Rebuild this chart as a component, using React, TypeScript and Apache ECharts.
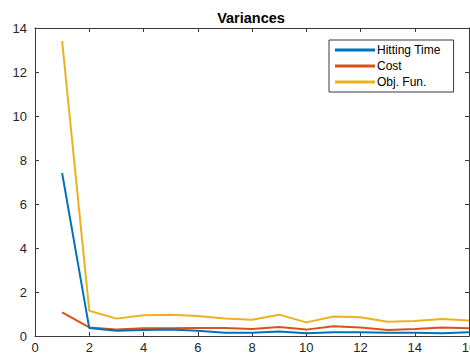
import React, { useEffect, useRef } from "react";
import * as echarts from "echarts";

const iterations = [1, 2, 3, 4, 5, 6, 7, 8, 9, 10, 11, 12, 13, 14, 15, 16];
const hittingTime = [7.4, 0.36, 0.24, 0.27, 0.3, 0.24, 0.15, 0.15, 0.21, 0.12, 0.17, 0.17, 0.15, 0.15, 0.12, 0.17];
const cost = [1.07, 0.39, 0.29, 0.35, 0.35, 0.36, 0.36, 0.32, 0.41, 0.29, 0.44, 0.39, 0.27, 0.32, 0.39, 0.35];
const objFun = [13.4, 1.15, 0.79, 0.94, 0.97, 0.91, 0.8, 0.74, 0.97, 0.62, 0.89, 0.85, 0.65, 0.68, 0.77, 0.71];
const seriesNames = ["Hitting Time", "Cost", "Obj. Fun."];
const colors = ["#0072BD", "#D95319", "#EDB120"];

const FONT = "'Liberation Sans', Arial, Helvetica, sans-serif";
const AXIS = "#3a3a3a";
const TEXT = "#262626";

export default function App() {
  const ref = useRef<HTMLDivElement>(null);

  useEffect(() => {
    if (!ref.current) return;
    const chart = echarts.init(ref.current, null, { renderer: "svg" });
    const pairs = (ys: number[]) => iterations.map((x, i) => [x, ys[i]]);
    const allSeries = [hittingTime, cost, objFun];

    const baseX = {
      type: "value" as const,
      min: 0,
      max: 16,
      interval: 2,
      splitLine: { show: false },
      axisLine: { show: true, onZero: false, lineStyle: { color: AXIS, width: 1 } },
      axisTick: { show: true, inside: true, length: 4, lineStyle: { color: AXIS } },
    };
    const baseY = {
      type: "value" as const,
      min: 0,
      max: 14,
      interval: 2,
      splitLine: { show: false },
      axisLine: { show: true, onZero: false, lineStyle: { color: AXIS, width: 1 } },
      axisTick: { show: true, inside: true, length: 4, lineStyle: { color: AXIS } },
    };

    chart.setOption({
      animation: false,
      backgroundColor: "#ffffff",
      textStyle: { fontFamily: FONT },
      title: {
        text: "Variances",
        left: 246,
        top: 5,
        textAlign: "center",
        textStyle: { fontFamily: FONT, fontSize: 14.5, fontWeight: "bold", color: "#000" },
      },
      grid: {
        left: 35,
        right: 1,
        top: 28,
        bottom: 20,
        containLabel: false,
        outerBoundsMode: "none",
      },
      xAxis: [
        {
          ...baseX,
          position: "bottom",
          axisLabel: { color: TEXT, fontSize: 13, fontFamily: FONT, margin: 5 },
        },
        { ...baseX, position: "top", axisLabel: { show: false } },
      ],
      yAxis: [
        {
          ...baseY,
          position: "left",
          axisLabel: { color: TEXT, fontSize: 13, fontFamily: FONT, margin: 8 },
        },
        { ...baseY, position: "right", axisLabel: { show: false } },
      ],
      legend: {
        data: seriesNames,
        orient: "vertical",
        left: 329,
        top: 40,
        padding: [3, 13, 3, 6],
        itemGap: 2,
        itemWidth: 40,
        itemHeight: 3,
        icon: "rect",
        borderColor: AXIS,
        borderWidth: 1,
        backgroundColor: "#ffffff",
        textStyle: {
          fontFamily: FONT,
          fontSize: 12,
          lineHeight: 14,
          color: "#000",
          padding: [0, 0, 0, -3],
        },
      },
      series: allSeries.map((ys, i) => ({
        name: seriesNames[i],
        type: "line",
        data: pairs(ys),
        showSymbol: false,
        symbol: "none",
        color: colors[i],
        lineStyle: { width: 2, color: colors[i] },
        z: 2 + (2 - i),
      })),
    });

    return () => chart.dispose();
  }, []);

  return (
    <div
      ref={ref}
      style={{ position: "fixed", left: 0, top: 0, width: 470, height: 356 }}
    />
  );
}
